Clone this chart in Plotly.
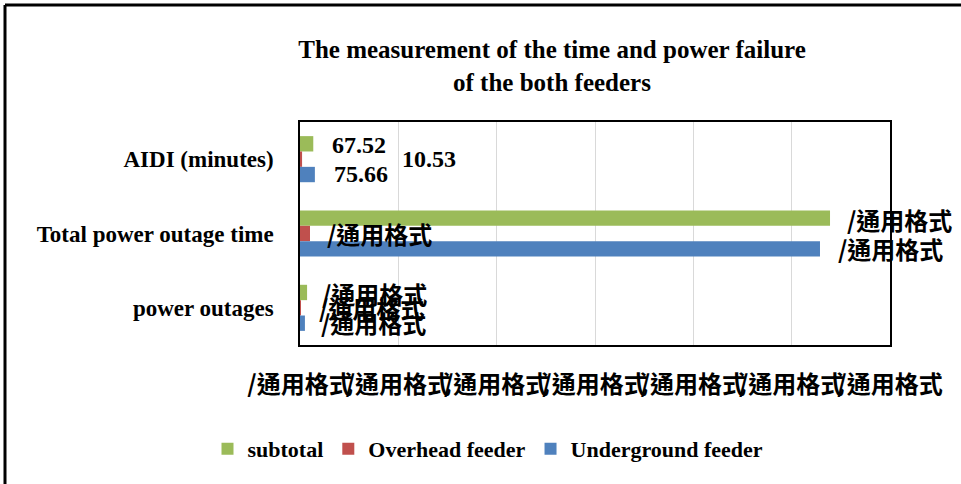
import plotly.graph_objects as go

# ---------------- data ----------------
categories = ["AIDI (minutes)", "Total power outage time", "power outages"]
series_names = ["subtotal", "Overhead feeder", "Underground feeder"]
subtotal = [67.52, 2695, 36]
overhead = [10.53, 51, 3]
underground = [75.66, 2644, 25]
subtotal_labels = ["67.52", "/通用格式", "/通用格式"]
overhead_labels = ["10.53", "/通用格式", "/通用格式"]
underground_labels = ["75.66", "/通用格式", "/通用格式"]
x_tick_values = [0, 500, 1000, 1500, 2000, 2500, 3000]
x_tick_labels = ["/通用格式"] * 7

# ---------------- style ----------------
colors = ["#9BBB59", "#C0504D", "#4F81BD"]
SERIF = "Liberation Serif"
CJK = "Noto Sans CJK TC"
W, H = 961, 484
L, R, T, B = 300, 890, 122, 345   # plot area in pixels

fig = go.Figure()
values = [subtotal, overhead, underground]
labels = [subtotal_labels, overhead_labels, underground_labels]
for name, vals, col in zip(series_names, values, colors):
    fig.add_trace(go.Bar(y=categories, x=vals, name=name, orientation="h",
                         marker=dict(color=col, line=dict(width=0))))

# data labels (positions: per-series vertical offset, per-label horizontal shift)
yshifts = [14, 0, -15]
xshifts = [[17, 15, 13], [98, 15, 16], [17, 16, 14]]
annotations = []
for si, (vals, labs) in enumerate(zip(values, labels)):
    for ci, (v, lab) in enumerate(zip(vals, labs)):
        is_cjk = "通" in lab
        annotations.append(dict(
            x=v, y=categories[ci], xref="x", yref="y", text=lab, showarrow=False,
            xanchor="left", yanchor="middle", xshift=xshifts[si][ci], yshift=yshifts[si],
            font=dict(family=CJK if is_cjk else SERIF, size=24,
                      color="black", weight="bold")))

pw, ph = R - L, B - T
def px(xp):
    return (xp - L) / pw
def py(yp):
    return (B - yp) / ph

shapes = [
    dict(type="line", xref="paper", yref="paper", x0=px(5), x1=px(5), y0=py(600), y1=py(5),
         line=dict(color="black", width=3)),
    dict(type="line", xref="paper", yref="paper", x0=px(5), x1=px(1000), y0=py(5), y1=py(5),
         line=dict(color="black", width=3)),
]

fig.update_layout(
    width=W, height=H,
    margin=dict(l=L, r=W - R, t=T, b=H - B, autoexpand=False),
    paper_bgcolor="white", plot_bgcolor="white",
    barmode="group", bargap=0.38, bargroupgap=0,
    title=dict(text="The measurement of the time and power failure<br>of the both feeders",
               x=552 / W, xanchor="center", xref="container",
               y=1 - 58 / H, yanchor="middle", yref="container",
               font=dict(family=SERIF, size=25, color="black", weight="bold")),
    legend=dict(orientation="h", x=px(488), xanchor="center", y=py(449), yanchor="middle",
                font=dict(family=SERIF, size=22, color="black", weight="bold"),
                bgcolor="rgba(0,0,0,0)", itemwidth=30),
    annotations=annotations,
    shapes=shapes,
    showlegend=True,
)
fig.update_xaxes(range=[0, 3000], tickvals=x_tick_values, ticktext=x_tick_labels,
                 tickangle=0, automargin=False,
                 showgrid=True, gridcolor="#D9D9D9", gridwidth=1, zeroline=False,
                 showline=True, linecolor="black", linewidth=1.5, mirror=True,
                 ticks="outside", ticklen=17, tickcolor="rgba(0,0,0,0)",
                 tickfont=dict(family=CJK, size=24, color="black", weight="bold"))
fig.update_yaxes(autorange="reversed", showgrid=False, automargin=False,
                 showline=True, linecolor="black", linewidth=1.5, mirror=True,
                 ticks="outside", ticklen=20, tickcolor="rgba(0,0,0,0)",
                 tickfont=dict(family=SERIF, size=23, color="black", weight="bold"))

fig.write_html("out.html", config={"displayModeBar": False},
               post_script="document.body.style.margin='0';document.body.style.overflow='hidden';")
